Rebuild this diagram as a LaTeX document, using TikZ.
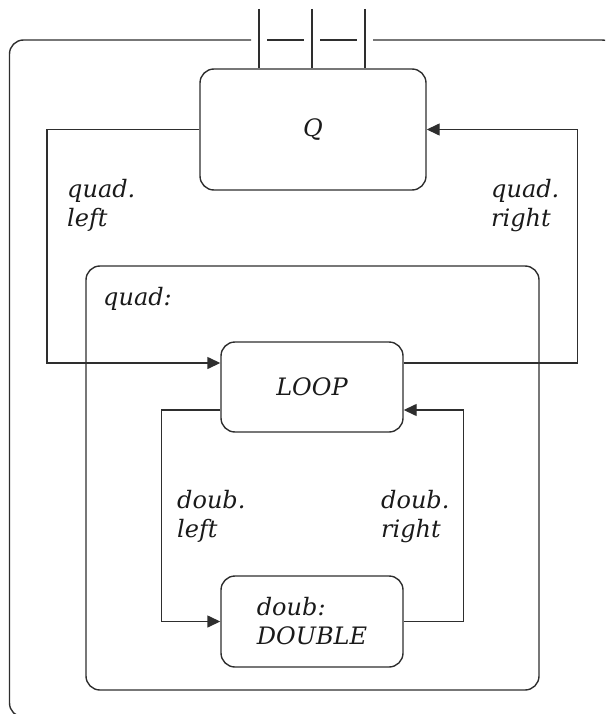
\documentclass[tikz,border=0pt]{standalone}
\usepackage{fontspec}
\setmainfont{DejaVu Serif}
\usetikzlibrary{arrows.meta,calc}
\definecolor{linec}{HTML}{2E2E2E}
\definecolor{textc}{HTML}{1A1A1A}
\begin{document}
\begin{tikzpicture}[x=1pt,y=-1pt,
  txt/.style={font=\fontsize{24}{29}\selectfont\itshape, text=textc},
  box/.style={draw=linec, line width=1.4pt, rounded corners=14pt, inner sep=0pt, txt},
  lbl/.style={txt, align=left, inner sep=0pt, anchor=base west},
  conn/.style={draw=linec, line width=1.4pt, -{Triangle[length=13pt,width=12pt]}},
  plain/.style={draw=linec, line width=1.4pt}]
\useasboundingbox (0,0) rectangle (605,714);
\clip (0,0) rectangle (605,714);

% outer enclosing frame (cut off at right and bottom)
\draw[plain, rounded corners=14pt] (251,40) -- (9.5,40) -- (9.5,717) -- (616,717) -- (616,40) -- (373,40);
\draw[plain] (267,40) -- (304,40);
\draw[plain] (320,40) -- (357,40);

% nodes
\node[box, minimum width=226pt, minimum height=121pt] (Q) at (313,129.5) {Q};
\node[box, minimum width=453pt, minimum height=424pt] (quadbox) at (312.5,478) {};
\node[box, minimum width=182pt, minimum height=90pt] (LOOP) at (312,387) {LOOP};
\node[box, minimum width=182pt, minimum height=91pt, align=left] (DOUBLE) at (312,621.5) {doub:\\DOUBLE};

% top inputs
\coordinate (t1) at (259,9);
\coordinate (t2) at (312,9);
\coordinate (t3) at (365,9);
\draw[plain] (t1) -- (t1 |- Q.north);
\draw[plain] (t2) -- (t2 |- Q.north);
\draw[plain] (t3) -- (t3 |- Q.north);

% connectors
\draw[conn] (Q.west) -- ++(-152.5,0) |- ([yshift=24pt]LOOP.west);
\draw[conn] ([yshift=24pt]LOOP.east) -- ++(174,0) |- (Q.east);
\draw[conn] ([yshift=-23pt]LOOP.west) -- ++(-59,0) |- (DOUBLE.west);
\draw[conn] (DOUBLE.east) -- ++(60,0) |- ([yshift=-23pt]LOOP.east);

% labels (base anchor = baseline of last line)
\node[lbl] (ql) at (67,226) {quad.\\left};
\node[lbl] (qr) at (491,226) {quad.\\right};
\node[lbl] (qc) at (103,305) {quad:};
\node[lbl] (dl) at (177,537) {doub.\\left};
\node[lbl] (dr) at (381,537) {doub.\\right};
\end{tikzpicture}
\end{document}
